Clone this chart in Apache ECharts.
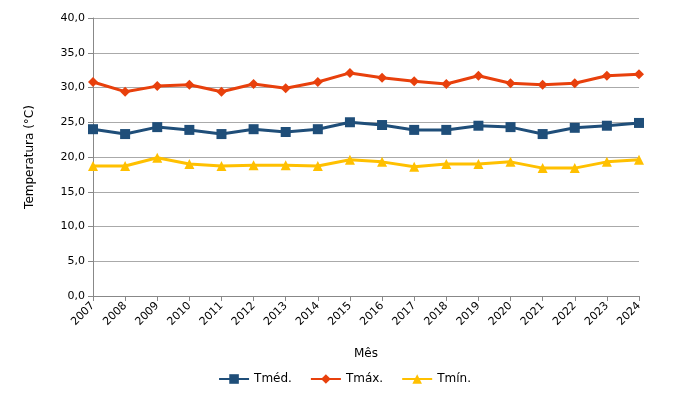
<!DOCTYPE html>
<html><head><meta charset="utf-8">
<script src="https://cdn.jsdelivr.net/npm/echarts@6/dist/echarts.min.js"></script>
<style>html,body{margin:0;padding:0;background:#fff}#c{width:689px;height:416px}</style>
</head><body><div id="c"></div>
<script>
var anos = ['2007','2008','2009','2010','2011','2012','2013','2014','2015','2016','2017','2018','2019','2020','2021','2022','2023','2024'];
var tmed = [24.0,23.3,24.3,23.9,23.3,24.0,23.6,24.0,25.0,24.6,23.9,23.9,24.5,24.3,23.3,24.2,24.5,24.9];
var tmax = [30.8,29.4,30.2,30.4,29.4,30.5,29.9,30.8,32.1,31.4,30.9,30.5,31.7,30.6,30.4,30.6,31.7,31.9];
var tmin = [18.7,18.7,19.9,19.0,18.7,18.8,18.8,18.7,19.6,19.3,18.6,19.0,19.0,19.3,18.4,18.4,19.3,19.6];

var chart = echarts.init(document.getElementById('c'));
var font = 'DejaVu Sans';
function serie(nome, dados, cor, simbolo) {
  return {
    name: nome, type: 'line', data: dados,
    symbol: simbolo, symbolSize: 10,
    lineStyle: { color: cor, width: 3 },
    itemStyle: { color: cor }
  };
}
chart.setOption({
  animation: false,
  textStyle: { fontFamily: font },
  grid: { left: 93, right: 50, top: 18, bottom: 120 },
  legend: {
    bottom: 26, itemGap: 18, itemWidth: 30, itemHeight: 12,
    textStyle: { fontSize: 12, color: '#000' },
    data: ['Tméd.', 'Tmáx.', 'Tmín.']
  },
  xAxis: {
    type: 'category', data: anos, boundaryGap: false,
    name: 'Mês', nameLocation: 'middle', nameGap: 52,
    nameTextStyle: { color: '#000', fontSize: 12 },
    axisLine: { lineStyle: { color: '#888' } },
    axisTick: { show: true, alignWithLabel: true, lineStyle: { color: '#888' } },
    axisLabel: { rotate: 45, color: '#000', fontSize: 11, interval: 0 },
    splitLine: { show: false }
  },
  yAxis: {
    type: 'value', min: 0, max: 40, interval: 5,
    name: 'Temperatura (°C)', nameLocation: 'middle', nameGap: 57,
    nameTextStyle: { color: '#000', fontSize: 12 },
    axisLine: { show: true, lineStyle: { color: '#888' } },
    axisTick: { show: true, lineStyle: { color: '#888' } },
    axisLabel: { color: '#000', fontSize: 11, formatter: function (v) { return v.toFixed(1).replace('.', ','); } },
    splitLine: { lineStyle: { color: '#aaa' } }
  },
  series: [
    serie('Tméd.', tmed, '#1f4e79', 'rect'),
    serie('Tmáx.', tmax, '#e8400c', 'diamond'),
    serie('Tmín.', tmin, '#ffc000', 'triangle')
  ]
});
</script></body></html>
